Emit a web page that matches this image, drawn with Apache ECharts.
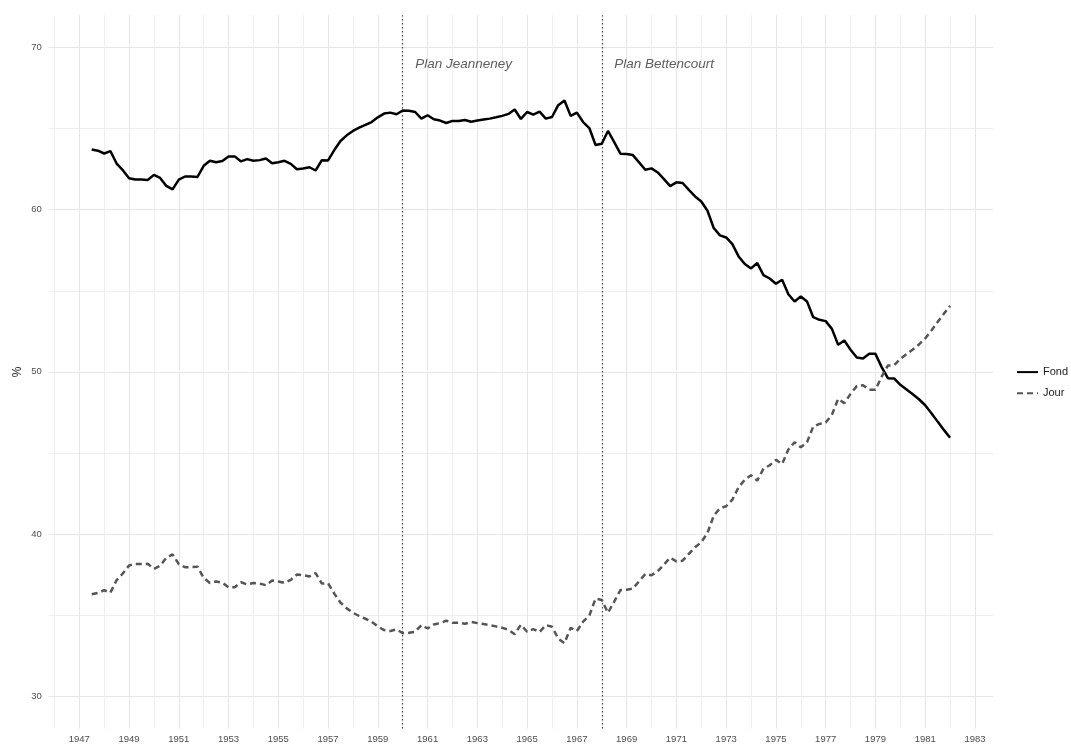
<!DOCTYPE html>
<html>
<head>
<meta charset="utf-8">
<script src="https://cdn.jsdelivr.net/npm/echarts@6/dist/echarts.min.js"></script>
<style>
html, body { margin: 0; padding: 0; background: #fff; }
#chart { width: 1071px; height: 747px; }
</style>
</head>
<body>
<div id="chart"></div>
<script>
// part des effectifs (%) fond / jour, données trimestrielles de 1947 T3 à 1982 T1
var firstQuarter = 1947.5;

var fond = [
    63.72, 63.64,
    63.47, 63.62, 62.85, 62.44,
    61.94, 61.86, 61.86, 61.84,
    62.15, 61.96, 61.47, 61.26,
    61.86, 62.05, 62.05, 62.02,
    62.71, 63.02, 62.93, 63.00,
    63.29, 63.29, 62.98, 63.12,
    63.02, 63.06, 63.16, 62.87,
    62.93, 63.02, 62.83, 62.50,
    62.54, 62.62, 62.42, 63.06,
    63.04, 63.68, 64.24, 64.59,
    64.86, 65.06, 65.23, 65.41,
    65.70, 65.93, 65.99, 65.89,
    66.12, 66.10, 66.03, 65.62,
    65.83, 65.58, 65.50, 65.35,
    65.48, 65.48, 65.54, 65.43,
    65.50, 65.56, 65.62, 65.70,
    65.79, 65.91, 66.18, 65.60,
    66.03, 65.87, 66.05, 65.62,
    65.72, 66.45, 66.74, 65.79,
    65.99, 65.41, 65.04, 63.99,
    64.07, 64.86, 64.17, 63.46,
    63.44, 63.37, 62.92, 62.47,
    62.55, 62.30, 61.89, 61.46,
    61.69, 61.65, 61.23, 60.82,
    60.51, 59.94, 58.87, 58.42,
    58.29, 57.88, 57.12, 56.65,
    56.38, 56.71, 55.97, 55.76,
    55.43, 55.68, 54.79, 54.34,
    54.65, 54.34, 53.37, 53.21,
    53.13, 52.65, 51.67, 51.93,
    51.36, 50.88, 50.82, 51.11,
    51.11, 50.29, 49.61, 49.59,
    49.20, 48.91, 48.62, 48.31,
    47.94, 47.45, 46.93, 46.42,
    45.93
];

var jour = [
    36.28, 36.36,
    36.53, 36.38, 37.15, 37.56,
    38.06, 38.14, 38.14, 38.16,
    37.85, 38.04, 38.53, 38.74,
    38.14, 37.95, 37.95, 37.98,
    37.29, 36.98, 37.07, 37.00,
    36.71, 36.71, 37.02, 36.88,
    36.98, 36.94, 36.84, 37.13,
    37.07, 36.98, 37.17, 37.50,
    37.46, 37.38, 37.58, 36.94,
    36.96, 36.32, 35.76, 35.41,
    35.14, 34.94, 34.77, 34.59,
    34.30, 34.07, 34.01, 34.11,
    33.88, 33.90, 33.97, 34.38,
    34.17, 34.42, 34.50, 34.65,
    34.52, 34.52, 34.46, 34.57,
    34.50, 34.44, 34.38, 34.30,
    34.21, 34.09, 33.82, 34.40,
    33.97, 34.13, 33.95, 34.38,
    34.28, 33.55, 33.26, 34.21,
    34.01, 34.59, 34.96, 36.01,
    35.93, 35.14, 35.83, 36.54,
    36.56, 36.63, 37.08, 37.53,
    37.45, 37.70, 38.11, 38.54,
    38.31, 38.35, 38.77, 39.18,
    39.49, 40.06, 41.13, 41.58,
    41.71, 42.12, 42.88, 43.35,
    43.62, 43.29, 44.03, 44.24,
    44.57, 44.32, 45.21, 45.66,
    45.35, 45.66, 46.63, 46.79,
    46.87, 47.35, 48.33, 48.07,
    48.64, 49.12, 49.18, 48.89,
    48.89, 49.71, 50.39, 50.41,
    50.80, 51.09, 51.38, 51.69,
    52.06, 52.55, 53.07, 53.58,
    54.07
];

var xTickYears = [1946, 1947, 1948, 1949, 1950, 1951, 1952, 1953, 1954, 1955, 1956, 1957, 1958, 1959, 1960,
    1961, 1962, 1963, 1964, 1965, 1966, 1967, 1968, 1969, 1970, 1971, 1972, 1973, 1974, 1975, 1976,
    1977, 1978, 1979, 1980, 1981, 1982, 1983];
var xLabelYears = [1947, 1949, 1951, 1953, 1955, 1957, 1959, 1961, 1963, 1965, 1967, 1969, 1971,
    1973, 1975, 1977, 1979, 1981, 1983];
var yTicks = [30, 35, 40, 45, 50, 55, 60, 65, 70];
var yLabels = [30, 40, 50, 60, 70];

var plans = ['Plan Jeanneney', 'Plan Bettencourt'];
var planYears = [1960, 1968];

function toPairs(values) {
    var out = [];
    for (var i = 0; i < values.length; i++) {
        out.push([firstQuarter + i * 0.25, values[i]]);
    }
    return out;
}

var font = 'Liberation Sans, Arial, Helvetica, sans-serif';

const chartDom = document.getElementById('chart');
const myChart = echarts.init(chartDom);
let option;

option = {
    animation: false,
    backgroundColor: '#ffffff',
    textStyle: { fontFamily: font },
    grid: {
        left: 48.8,
        right: 78,
        top: 15.2,
        bottom: 18.5,
        containLabel: false,
        outerBoundsMode: 'none'
    },
    legend: {
        data: ['Fond', 'Jour'],
        orient: 'vertical',
        left: 1016,
        top: 366.5,
        padding: 0,
        itemWidth: 21,
        itemHeight: 14,
        itemGap: 10,
        itemStyle: { opacity: 0 },
        textStyle: { fontSize: 11, color: '#1a1a1a', fontFamily: font }
    },
    xAxis: {
        type: 'value',
        min: 1945.775,
        max: 1983.725,
        axisLine: { show: false },
        axisTick: { show: false, customValues: xTickYears },
        axisLabel: {
            customValues: xLabelYears,
            color: '#4d4d4d',
            fontSize: 9.5,
            margin: 6,
            formatter: function (v) { return String(v); }
        },
        splitLine: {
            show: true,
            lineStyle: { color: ['#eeeeee', '#e6e6e6'], width: 1 }
        }
    },
    yAxis: {
        type: 'value',
        min: 28,
        max: 72,
        name: '%',
        nameLocation: 'middle',
        nameGap: 25,
        nameMoveOverlap: false,
        nameRotate: 90,
        nameTextStyle: { fontSize: 12, color: '#1a1a1a', fontFamily: font },
        axisLine: { show: false },
        axisTick: { show: false, customValues: yTicks },
        axisLabel: {
            customValues: yLabels,
            color: '#4d4d4d',
            fontSize: 9.5,
            margin: 7
        },
        splitLine: {
            show: true,
            lineStyle: { color: ['#e6e6e6', '#eeeeee'], width: 1 }
        }
    },
    series: [
        {
            name: 'Fond',
            type: 'line',
            data: toPairs(fond),
            showSymbol: false,
            symbol: 'none',
            z: 3,
            lineStyle: { color: '#000000', width: 2.5, type: 'solid' },
            itemStyle: { color: '#000000' },
            markLine: {
                silent: true,
                symbol: 'none',
                z: 1,
                label: { show: false },
                lineStyle: { color: '#444444', width: 1.2, type: [1.5, 2.5] },
                data: planYears.map(function (y) { return { xAxis: y }; })
            },
            markPoint: {
                silent: true,
                symbol: 'circle',
                symbolSize: 0,
                data: plans.map(function (p, i) {
                    return {
                        coord: [planYears[i] + 0.5, 69],
                        label: {
                            show: true,
                            formatter: p,
                            position: 'right',
                            distance: 0,
                            fontStyle: 'italic',
                            fontSize: 13.5,
                            color: '#5e5e5e',
                            fontFamily: font
                        }
                    };
                })
            }
        },
        {
            name: 'Jour',
            type: 'line',
            data: toPairs(jour),
            showSymbol: false,
            symbol: 'none',
            z: 3,
            lineStyle: { color: '#555555', width: 2.5, type: [6, 4] },
            itemStyle: { color: '#555555' }
        }
    ]
};

option && myChart.setOption(option);
</script>
</body>
</html>
